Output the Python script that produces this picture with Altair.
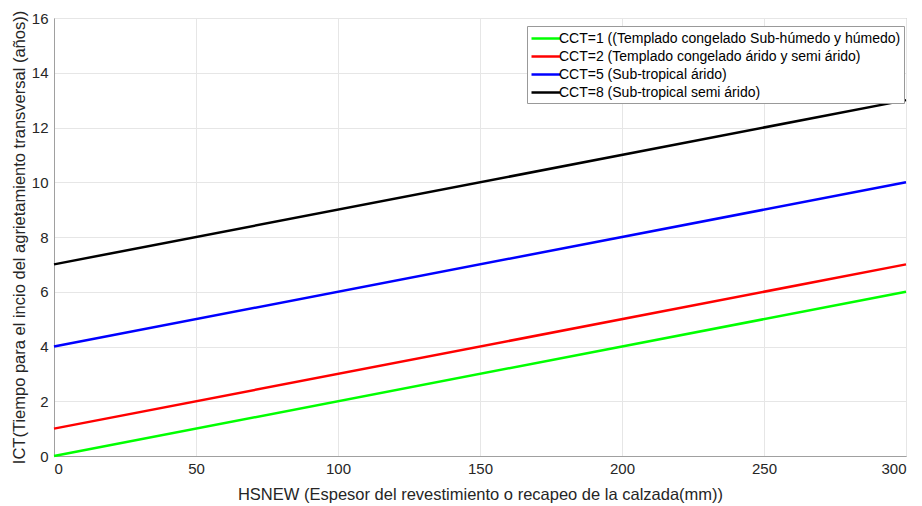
import altair as alt
import pandas as pd

hsnew = [0, 300]
series_names = [
    "CCT=1 ((Templado congelado Sub-húmedo y húmedo)",
    "CCT=2 (Templado congelado árido y semi árido)",
    "CCT=5 (Sub-tropical árido)",
    "CCT=8 (Sub-tropical semi árido)",
]
ict_cct1 = [0, 6]
ict_cct2 = [1, 7]
ict_cct5 = [4, 10]
ict_cct8 = [7, 13]
colors = ["#00ff00", "#ff0000", "#0000ff", "#000000"]

rows = []
for name, vals in zip(series_names, [ict_cct1, ict_cct2, ict_cct5, ict_cct8]):
    for x, y in zip(hsnew, vals):
        rows.append({"HSNEW": x, "ICT": y, "serie": name})
df = pd.DataFrame(rows)

font = "Liberation Sans"

chart = alt.Chart(df).mark_line(strokeWidth=2.5).encode(
    x=alt.X("HSNEW:Q",
            scale=alt.Scale(domain=[0, 300], nice=False),
            axis=alt.Axis(title="HSNEW (Espesor del revestimiento o recapeo de la calzada(mm))",
                          values=[0, 50, 100, 150, 200, 250, 300], format="d")),
    y=alt.Y("ICT:Q",
            scale=alt.Scale(domain=[0, 16], nice=False),
            axis=alt.Axis(title="ICT(Tiempo para el incio del agrietamiento transversal (años))",
                          values=list(range(0, 17, 2)), format="d")),
    color=alt.Color("serie:N",
                    scale=alt.Scale(domain=series_names, range=colors),
                    legend=alt.Legend(title=None, orient="none", legendX=473, legendY=8,
                                      symbolType="M-1,0H2.6", symbolSize=256, symbolStrokeWidth=2.5,
                                      labelFontSize=14, labelFont=font, labelColor="#000000",
                                      rowPadding=1, strokeColor="#999999", fillColor="white",
                                      padding=3, labelLimit=400, labelOffset=10)),
).properties(
    width=852, height=438,
    autosize=alt.AutoSizeParams(type="none"),
    padding={"left": 46, "top": 10, "right": 8, "bottom": 50},
).configure_view(
    stroke="#a0a0a0", strokeWidth=1
).configure_axis(
    labelFont=font, titleFont=font, labelFontSize=15, titleFontSize=16.5,
    labelColor="#262626", titleColor="#262626", titleFontWeight="normal",
    gridColor="#e6e6e6", gridWidth=1, domainColor="#a0a0a0",
    tickSize=0, labelPadding=6,
).configure_axisX(
    titlePadding=10, labelPadding=5
).configure_axisY(
    titlePadding=4
)

chart.save("out.html", embed_options={"renderer": "svg", "actions": False})
